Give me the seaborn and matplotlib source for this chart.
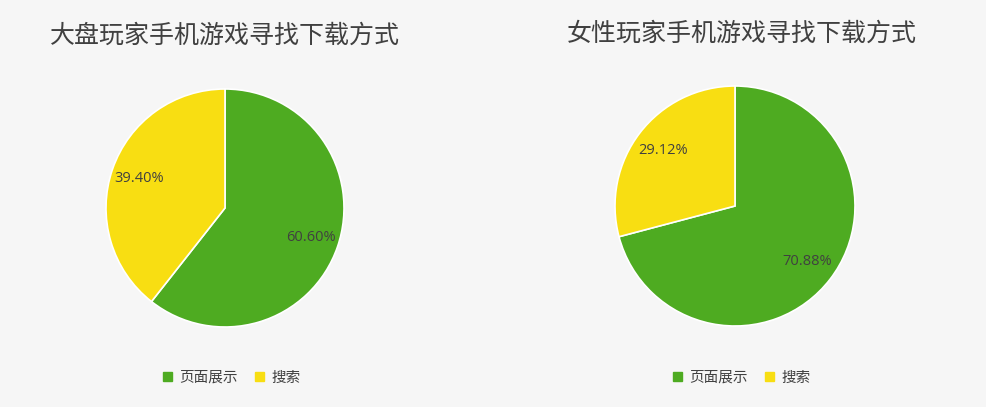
import matplotlib
matplotlib.use("Agg")
import matplotlib.pyplot as plt
import seaborn as sns
from matplotlib.patches import Patch

sns.set_theme(style="white")
plt.rcParams['font.family'] = ['Noto Sans CJK SC', 'DejaVu Sans']

categories = ["页面展示", "搜索"]
titles = ["大盘玩家手机游戏寻找下载方式", "女性玩家手机游戏寻找下载方式"]
values_all = [60.60, 39.40]
values_female = [70.88, 29.12]
colors = sns.color_palette(["#4eab21", "#f8de12"])

fig = plt.figure(figsize=(9.86, 4.07), dpi=100)
fig.patch.set_facecolor("#f6f6f6")

specs = [(225, 208, 119, values_all, 50, 36, 150), (735, 206, 120, values_female, 567, 34, 660)]
for i, (cx, cy, r, vals, tx, ty, lx) in enumerate(specs):
    ax = fig.add_axes([(cx - r) / 986, 1 - (cy + r) / 407, 2 * r / 986, 2 * r / 407])
    ax.pie(vals, colors=colors, startangle=90, counterclock=False,
           autopct=lambda p: f"{p:.2f}%", pctdistance=0.76,
           wedgeprops=dict(edgecolor="white", linewidth=1.2),
           textprops=dict(fontsize=10.5, color="#404040", family=["Open Sans", "DejaVu Sans"]))
    ax.set_xlim(-1, 1)
    ax.set_ylim(-1, 1)
    ax.set_aspect("equal")
    ax.axis("off")
    fig.text(tx / 986, 1 - ty / 407, titles[i], fontsize=18, color="#404040", va="center", ha="left")
    handles = [Patch(color=c) for c in colors]
    fig.legend(handles, categories, loc="center left", bbox_to_anchor=(lx / 986, 1 - 378 / 407),
               ncol=2, frameon=False, fontsize=10.5, handlelength=0.6, handleheight=0.6,
               columnspacing=1.2, handletextpad=0.5, labelcolor="#404040")

fig.savefig("out.png", dpi=100, facecolor=fig.get_facecolor())
